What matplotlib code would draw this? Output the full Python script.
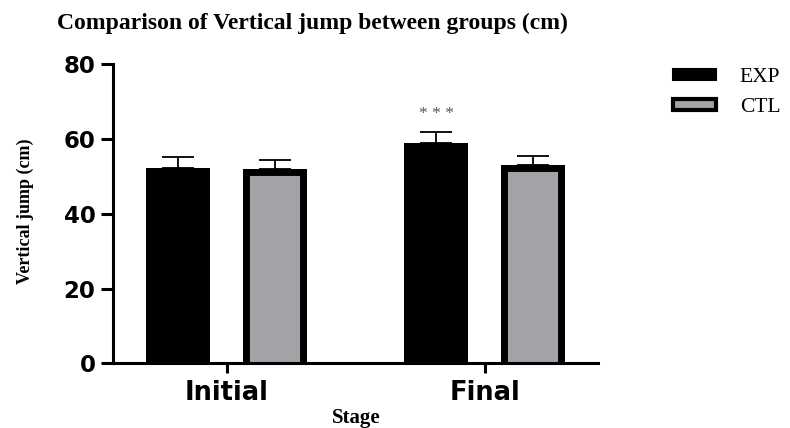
import matplotlib
matplotlib.use("Agg")
import matplotlib.pyplot as plt
from matplotlib.patches import Rectangle
import numpy as np

stages = ["Initial", "Final"]
groups = ["EXP", "CTL"]
exp_means = [52.3, 58.8]
exp_err = [2.8, 3.2]
ctl_means = [51.9, 53.0]
ctl_err = [2.4, 2.5]
yticks = [0, 20, 40, 60, 80]

serif = ["Liberation Serif", "DejaVu Serif"]

fig = plt.figure(figsize=(7.9, 4.28), dpi=100)
ax = fig.add_axes([0.143, 0.151, 0.614, 0.699])

x = np.arange(len(stages))
off = 0.188
w = 0.248

b1 = ax.bar(x - off, exp_means, w, color="black", zorder=2)
b2 = ax.bar(x + off, ctl_means, w, color="#a3a2a7", linewidth=0, zorder=2)
# black border inside the CTL bars (left, top, right sides), clipped to the bar
for p in b2:
    x0, y0 = p.get_x(), p.get_y()
    x1, y1 = x0 + p.get_width(), y0 + p.get_height()
    ln, = ax.plot([x0, x0, x1, x1], [y0, y1, y1, y0], color="black",
                  linewidth=10, solid_joinstyle="miter", zorder=2.1)
    ln.set_clip_path(p)

ax.errorbar(x - off, exp_means, yerr=[np.zeros(len(exp_err)), exp_err],
            fmt="none", ecolor="black", elinewidth=1.3, capsize=11.5,
            capthick=1.3, zorder=1)
ax.errorbar(x + off, ctl_means, yerr=[np.zeros(len(ctl_err)), ctl_err],
            fmt="none", ecolor="black", elinewidth=1.3, capsize=11.5,
            capthick=1.3, zorder=1)

ax.text(x[1] - off, exp_means[1] + exp_err[1] + 4.6, "* * *", ha="center",
        va="center", fontsize=12.5, color="#555555", family=serif)

ax.set_xlim(-0.442, 1.439)
ax.set_ylim(0, 80)
ax.set_yticks(yticks)
ax.set_yticklabels([str(t) for t in yticks])
ax.set_xticks(x)
ax.set_xticklabels(stages)

for s in ["top", "right"]:
    ax.spines[s].set_visible(False)
for s in ["left", "bottom"]:
    ax.spines[s].set_linewidth(2.2)
    ax.spines[s].set_zorder(3)
ax.tick_params(axis="y", length=9, width=2.2, pad=3.5, labelsize=16.5)
ax.tick_params(axis="x", length=7, width=2.2, pad=5, labelsize=18.5)
for lab in ax.get_yticklabels() + ax.get_xticklabels():
    lab.set_fontweight("bold")
    lab.set_family("DejaVu Sans")

fig.text(25 / 790, 1 - 211 / 428, "Vertical jump (cm)", rotation=90,
         ha="center", va="center", fontsize=13, fontweight="bold",
         family=serif)
fig.text(356 / 790, 1 - 418 / 428, "Stage", ha="center", va="center",
         fontsize=15, fontweight="bold", family=serif)
fig.text(57 / 790, 1 - 23 / 428, "Comparison of Vertical jump between groups (cm)",
         ha="left", va="center", fontsize=17, fontweight="bold", family=serif)

h1 = Rectangle((0, 0), 1, 1, facecolor="black", edgecolor="black", linewidth=1.5)
h2 = Rectangle((0, 0), 1, 1, facecolor="#a3a2a7", edgecolor="black", linewidth=3)
leg = fig.legend([h1, h2], groups, loc="upper left",
                 bbox_to_anchor=(673 / 790, 1 - 68 / 428), frameon=False,
                 borderpad=0, borderaxespad=0, handlelength=2.0,
                 handleheight=0.4, handletextpad=1.1, labelspacing=0.5,
                 prop={"family": serif, "size": 15.5})

fig.savefig("out.png", dpi=100)
